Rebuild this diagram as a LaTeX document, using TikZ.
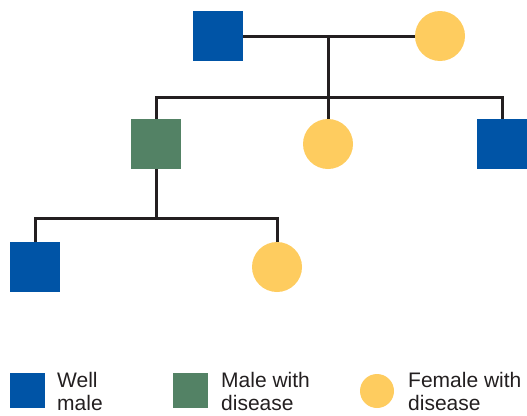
\documentclass[tikz,border=0pt]{standalone}
\usepackage{fontspec}
\setmainfont{Liberation Sans}
\usetikzlibrary{positioning}

\definecolor{wellblue}{HTML}{0054A6}
\definecolor{sickgreen}{HTML}{538265}
\definecolor{sickyellow}{HTML}{FECC5F}
\definecolor{linegray}{HTML}{231F20}

\begin{document}
\begin{tikzpicture}[x=1pt, y=-1pt,
  male/.style={rectangle, fill=wellblue, minimum size=50pt, inner sep=0pt},
  sickmale/.style={male, fill=sickgreen},
  sickfemale/.style={circle, fill=sickyellow, minimum size=50pt, inner sep=0pt},
  link/.style={line width=3pt, draw=linegray},
  legendtext/.style={anchor=base west, align=left, inner sep=0pt,
    font=\fontsize{21}{22.5}\selectfont, text=linegray}]
  \useasboundingbox (0,0) rectangle (527,415);

  % Parents
  \node[male] (father) at (218,36) {};
  \node[sickfemale] (mother) at (440,36) {};

  % Children
  \node[sickmale] (son) at (156,144) {};
  \node[sickfemale] (daughter) at (328,144) {};
  \node[male] (son2) at (502,144) {};

  % Grandchildren
  \node[male] (grandson) at (35,267) {};
  \node[sickfemale] (granddaughter) at (277,267) {};

  % Junctions
  \coordinate (marriage) at (328,35);
  \coordinate (sibs) at (328,97);
  \coordinate (sibs2) at (156,218);

  % Lines of descent
  \draw[link] (father.east) -- (mother.west);
  \draw[link] (marriage) -- (sibs);
  \draw[link] (son.north) |- (sibs) -| (son2.north);
  \draw[link] (sibs) -- (daughter.north);
  \draw[link] (son.south) -- (sibs2);
  \draw[link] (grandson.north) |- (sibs2) -| (granddaughter.north);

  % Legend (base anchor sits on the second line)
  \node[male, minimum size=35pt] (keywell) at (27.5,390.5) {};
  \node[sickmale, minimum size=35pt] (keysick) at (190,390.5) {};
  \node[sickfemale, minimum size=34pt] (keyfemale) at (377,391) {};
  \node[legendtext] (welltext) at (57,410) {Well\\male};
  \node[legendtext] (sicktext) at (221,410) {Male with\\disease};
  \node[legendtext] (femaletext) at (408,410) {Female with\\disease};
\end{tikzpicture}
\end{document}
